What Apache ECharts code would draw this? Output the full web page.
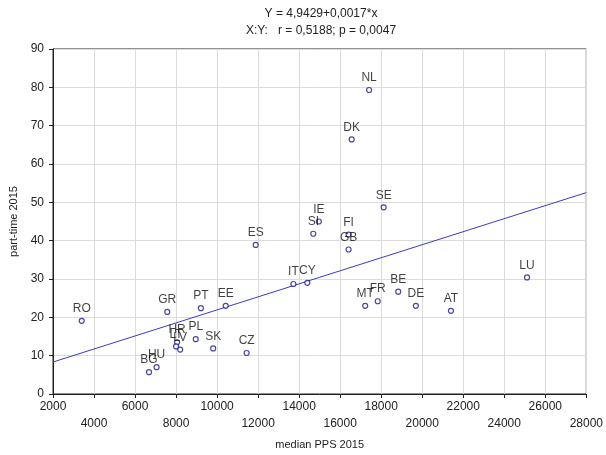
<!DOCTYPE html>
<html>
<head>
<meta charset="utf-8">
<script src="https://cdn.jsdelivr.net/npm/echarts@6/dist/echarts.min.js"></script>
<style>
  html, body { margin: 0; padding: 0; background: #fff; }
  #chart { width: 606px; height: 455px; }
</style>
</head>
<body>
<div id="chart"></div>
<script>
const countries = ['RO', 'BG', 'HU', 'GR', 'HR', 'LT', 'LV', 'PL', 'PT', 'SK', 'EE', 'CZ', 'ES',
  'IT', 'CY', 'SI', 'IE', 'DK', 'FI', 'GB', 'MT', 'NL', 'FR', 'SE', 'BE', 'DE', 'AT', 'LU'];
const medianPPS = [3400, 6680, 7050, 7570, 8050, 8000, 8200, 8960, 9210, 9810, 10420, 11440, 11880,
  13720, 14400, 14690, 14960, 16560, 16410, 16410, 17220, 17410, 17830, 18120, 18830, 19690, 21400, 25110];
const partTime = [19.1, 5.7, 7.0, 21.4, 13.5, 12.4, 11.6, 14.3, 22.4, 11.9, 23.0, 10.7, 38.9,
  28.7, 29.0, 41.8, 45.0, 66.4, 41.6, 37.7, 23.0, 79.3, 24.2, 48.7, 26.7, 23.0, 21.7, 30.4];

// fitted line, as printed on the chart
const intercept = 4.9429;
const slope = 0.0017;
const xRange = [2000, 28000];

const font = 'Liberation Sans, Arial, sans-serif';

const points = countries.map((c, i) => ({ name: c, value: [medianPPS[i], partTime[i]] }));
const fitLine = xRange.map((x) => [x, intercept + slope * x]);

const chart = echarts.init(document.getElementById('chart'));
chart.setOption({
  backgroundColor: '#fff',
  animation: false,
  textStyle: { fontFamily: font },
  title: {
    text: 'Y = 4,9429+0,0017*x\nX:Y:   r = 0,5188; p = 0,0047',
    left: 316,
    top: 0,
    textAlign: 'center',
    textStyle: { fontSize: 12, fontWeight: 'normal', color: '#222', lineHeight: 17, fontFamily: font },
  },
  grid: { left: 53, right: 16, top: 49, bottom: 57, show: true, borderColor: '#222', borderWidth: 1 },
  xAxis: {
    type: 'value',
    min: 2000,
    max: 28000,
    interval: 2000,
    name: 'median PPS 2015',
    nameLocation: 'middle',
    nameGap: 45,
    nameTextStyle: { fontSize: 11, color: '#222', fontFamily: font },
    axisLine: { lineStyle: { color: '#222' } },
    axisTick: { show: true, length: 4, lineStyle: { color: '#222' } },
    axisLabel: {
      fontSize: 12, color: '#222', margin: 4, lineHeight: 17, fontFamily: font,
      formatter: (v) => ((v / 2000) % 2 === 0 ? '\n' + v : String(v)),
    },
    splitLine: { lineStyle: { color: '#dcdcdc' } },
  },
  yAxis: {
    type: 'value',
    min: 0,
    max: 90,
    interval: 10,
    name: 'part-time 2015',
    nameLocation: 'middle',
    nameGap: 34,
    nameTextStyle: { fontSize: 11, color: '#222', fontFamily: font },
    axisLine: { lineStyle: { color: '#222' } },
    axisTick: { show: true, length: 4, lineStyle: { color: '#222' } },
    axisLabel: { fontSize: 12, color: '#222', margin: 9, fontFamily: font },
    splitLine: { lineStyle: { color: '#dcdcdc' } },
  },
  series: [
    {
      type: 'line',
      data: fitLine,
      symbol: 'none',
      lineStyle: { color: '#3b3bc4', width: 1 },
      silent: true,
      z: 2,
    },
    {
      type: 'scatter',
      data: points,
      symbol: 'circle',
      symbolSize: 5,
      itemStyle: { color: '#fff', borderColor: '#1a1a8c', borderWidth: 1.2 },
      label: {
        show: true,
        formatter: '{b}',
        position: 'top',
        distance: 3,
        fontSize: 12,
        color: '#111',
        fontFamily: font,
      },
      z: 3,
    },
  ],
});
</script>
</body>
</html>
